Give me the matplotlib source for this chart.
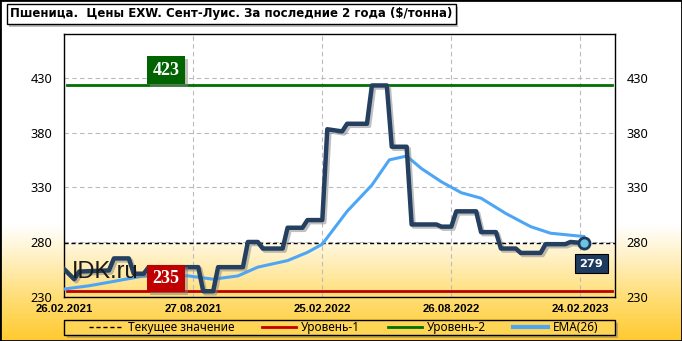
import numpy as np
import matplotlib.pyplot as plt
import matplotlib.patheffects as pe
from matplotlib.colors import LinearSegmentedColormap
from matplotlib.lines import Line2D
from matplotlib.patches import Rectangle

# weekly positions counted from 26.02.2021
price_weeks = [0, 2, 3, 9, 10, 13, 14, 16, 17, 27, 28, 30, 31, 36, 37, 39, 40, 44, 45, 48, 49,
               52, 53, 56, 57, 61, 62, 65, 66, 69, 70, 75, 76, 78, 79, 83, 84, 87, 88, 91, 92,
               96, 97, 101, 102, 104.7]
price_vals = [255, 246, 253, 254, 265, 265, 251, 251, 257, 257, 235, 235, 257, 257, 280, 280, 274,
              274, 293, 293, 300, 300, 383, 381, 388, 388, 423, 423, 367, 367, 296, 296, 294, 294,
              308, 308, 289, 289, 274, 274, 270, 270, 278, 278, 280, 279]

ema_weeks = [0, 5, 10, 16, 25, 30, 35, 39, 45, 49, 52, 57, 62, 65.5, 69, 72, 76, 80, 84, 89,
             94, 98, 104.7]
ema_vals = [237, 240, 244, 249, 249, 246, 249, 257, 263, 270.5, 278, 308, 332, 355, 358.5, 347,
            335, 325, 320, 306, 294, 288, 285]

level1 = 235
level2 = 423
current = 279

tick_weeks = [0, 26, 52, 78, 104]
tick_labels = ['26.02.2021', '27.08.2021', '25.02.2022', '26.08.2022', '24.02.2023']
y_ticks = [230, 280, 330, 380, 430]

title = 'Пшеница.  Цены EXW. Сент-Луис. За последние 2 года ($/тонна)'

plt.rcParams['font.family'] = ['Noto Sans', 'DejaVu Sans']

fig = plt.figure(figsize=(6.82, 3.41), dpi=100)

# background gradient
bg = fig.add_axes([0, 0, 1, 1], zorder=-10)
bg_cmap = LinearSegmentedColormap.from_list(
    'bg', [(0, '#FFCA30'), (0.12, '#FFDD72'), (0.24, '#FFF0C2'), (0.34, '#FFFFFF'), (1, '#FFFFFF')])
grad = np.linspace(0, 1, 341).reshape(-1, 1)
bg.imshow(grad, aspect='auto', cmap=bg_cmap, origin='lower', extent=[0, 1, 0, 1], vmin=0, vmax=1)
bg.axis('off')
fig.patches.append(Rectangle((0, 0), 1, 1, transform=fig.transFigure, fill=False,
                             ec='black', lw=2, zorder=10))

ax = fig.add_axes([0.0943, 0.1299, 0.8075, 0.7704])
ax.set_facecolor('none')
ax.set_xlim(0, 111)
ax.set_ylim(230, 470)
ax.axhspan(current, 470, color='white', zorder=0)

ax.set_xticks(tick_weeks)
ax.set_xticklabels(tick_labels, fontweight='bold', fontsize=8.2, family='Liberation Sans')
ax.set_yticks(y_ticks)
ax.tick_params(axis='y', labelsize=9.2, length=0, pad=8.5, labelright=True)
ax.tick_params(axis='x', length=0, pad=5)
ax.grid(True, color='#BBBBBB', ls=(0, (4, 3)), lw=0.8, zorder=1)
for s in ax.spines.values():
    s.set_linewidth(1)

# level lines
ax.axhline(level1, xmin=0.005, xmax=0.995, color='#C00000', lw=2, zorder=3)
ax.axhline(level2, xmin=0.005, xmax=0.995, color='#007000', lw=2, zorder=3)
ax.axhline(current, color='black', lw=1, ls=(0, (3, 2)), zorder=3)

shadow = [pe.SimpleLineShadow(offset=(1.5, -1.5), shadow_color='gray', alpha=0.5), pe.Normal()]
ax.plot(ema_weeks, ema_vals, color='#4DA6F5', lw=2.2, zorder=4, solid_joinstyle='round')
ax.plot(price_weeks, price_vals, color='#243F60', lw=3.2, zorder=5, solid_joinstyle='round',
        path_effects=shadow)
ax.plot(price_weeks[-1], price_vals[-1], 'o', ms=8, mfc='#6CC5E0', mec='#1F3A5F', mew=2, zorder=7)

ax.text(1.5, 247, 'IDK.ru', fontsize=17, family='Liberation Sans', color='#1A1A1A',
        va='baseline', ha='left', zorder=6)

box_shadow = [pe.SimplePatchShadow(offset=(2, -2), shadow_rgbFace='gray', alpha=0.5), pe.Normal()]
for yv, txt, col in [(437, str(level2), '#006400'), (246.6, str(level1), '#C00000')]:
    t = ax.text(20.5, yv, txt, fontsize=13, family='Liberation Serif', fontweight='bold',
                color='white', ha='center', va='center', zorder=8,
                bbox=dict(boxstyle='square,pad=0.3', fc=col, ec='none'))
    t.get_bbox_patch().set_path_effects(box_shadow)
ax.text(106.2, 260.3, str(current), fontsize=8.2, family='DejaVu Sans', fontweight='bold',
        color='white', ha='center', va='center', zorder=8,
        bbox=dict(boxstyle='square,pad=0.4', fc='#1F3A5F', ec='black', lw=0.8))

t = fig.text(10 / 682, 1 - 14 / 341, title, fontsize=8.45, family='DejaVu Sans', fontweight='bold',
             ha='left', va='center',
             bbox=dict(boxstyle='square,pad=0.28', fc='white', ec='black', lw=1))
t.get_bbox_patch().set_path_effects(box_shadow)

# legend frame drawn separately (below the axes layer), entries placed inside it
leg_box = Rectangle((64.3 / 682, 6 / 341), 550.7 / 682, 15 / 341, transform=fig.transFigure,
                    fc='#FFD555', ec='black', lw=1, zorder=-5)
leg_box.set_path_effects(box_shadow)
fig.patches.append(leg_box)

handles = [Line2D([], [], color='black', lw=1, ls=(0, (3, 2))),
           Line2D([], [], color='#C00000', lw=2),
           Line2D([], [], color='#007000', lw=2),
           Line2D([], [], color='#4DA6F5', lw=3)]
labels = ['Текущее значение', 'Уровень-1', 'Уровень-2', 'EMA(26)']
leg = ax.legend(handles, labels, ncol=4, loc='center left',
                bbox_to_anchor=(0.0449, -0.1172, 0.924, 0.0),
                mode='expand', fontsize=8.5, frameon=False, handlelength=2.9,
                handletextpad=0.4, borderpad=0, borderaxespad=0)

fig.savefig('out.png', dpi=100)
